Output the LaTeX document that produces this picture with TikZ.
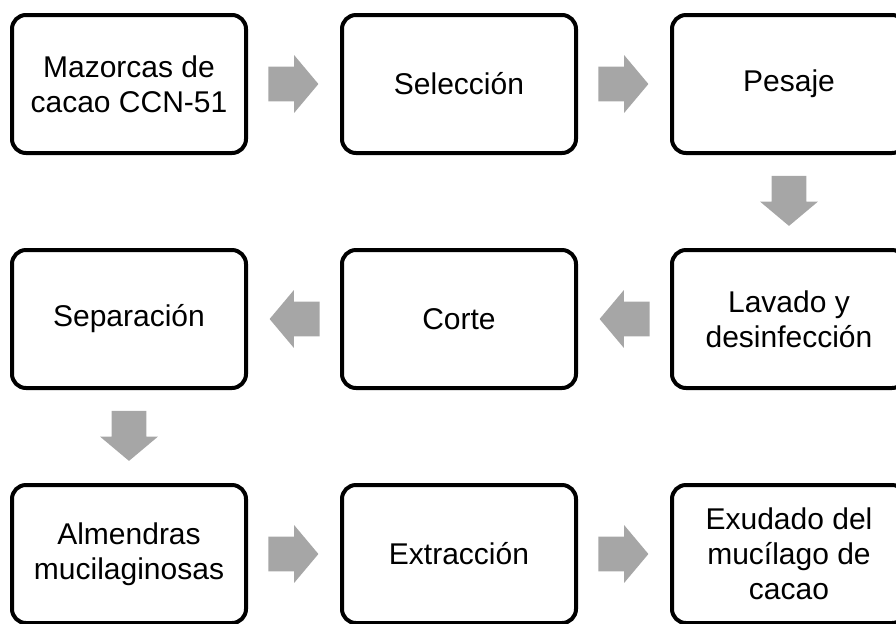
\documentclass[tikz,border=0pt]{standalone}
\usepackage{fontspec}
\setmainfont{Liberation Sans}
\usepackage{tikz}
\usetikzlibrary{calc,shapes.arrows}
\definecolor{flecha}{RGB}{166,166,166}
\tikzset{
paso/.style={draw,line width=2pt,rounded corners=7pt,minimum width=117pt,minimum height=69pt,align=center,font=\fontsize{15}{17.5}\selectfont},
flechagris/.style={single arrow,fill=flecha,draw=none,inner xsep=0pt,inner ysep=8.5pt,minimum height=25pt,single arrow head extend=5.75pt,single arrow tip angle=100,anchor=tail}
}

\begin{document}
\begin{tikzpicture}[x=0.5pt,y=-0.5pt]
\useasboundingbox (0,0) rectangle (896,623);
% fila 1
\node[paso] (mazorcas) at (129,84) {Mazorcas de\\cacao CCN-51};
\node[paso] (seleccion) at (459,84) {Selección};
\node[paso] (pesaje) at (789,84) {Pesaje};
% fila 2
\node[paso] (separacion) at (129,319) {Separación};
\node[paso] (corte) at (459,319) {Corte};
\node[paso] (lavado) at (789,319) {Lavado y\\desinfección};
% fila 3
\node[paso] (almendras) at (129,554) {Almendras\\mucilaginosas};
\node[paso] (extraccion) at (459,554) {Extracción};
\node[paso] (exudado) at (789,554) {Exudado del\\mucílago de\\cacao};
% flechas
\foreach \a/\b/\r in {mazorcas/seleccion/0,seleccion/pesaje/0,pesaje/lavado/-90,lavado/corte/180,corte/separacion/180,separacion/almendras/-90,almendras/extraccion/0,extraccion/exudado/0}
\node[flechagris,rotate=\r] (f-\a) at ($(\a)!0.5!(\b)!13pt!(\a)$) {};
\end{tikzpicture}
\end{document}
